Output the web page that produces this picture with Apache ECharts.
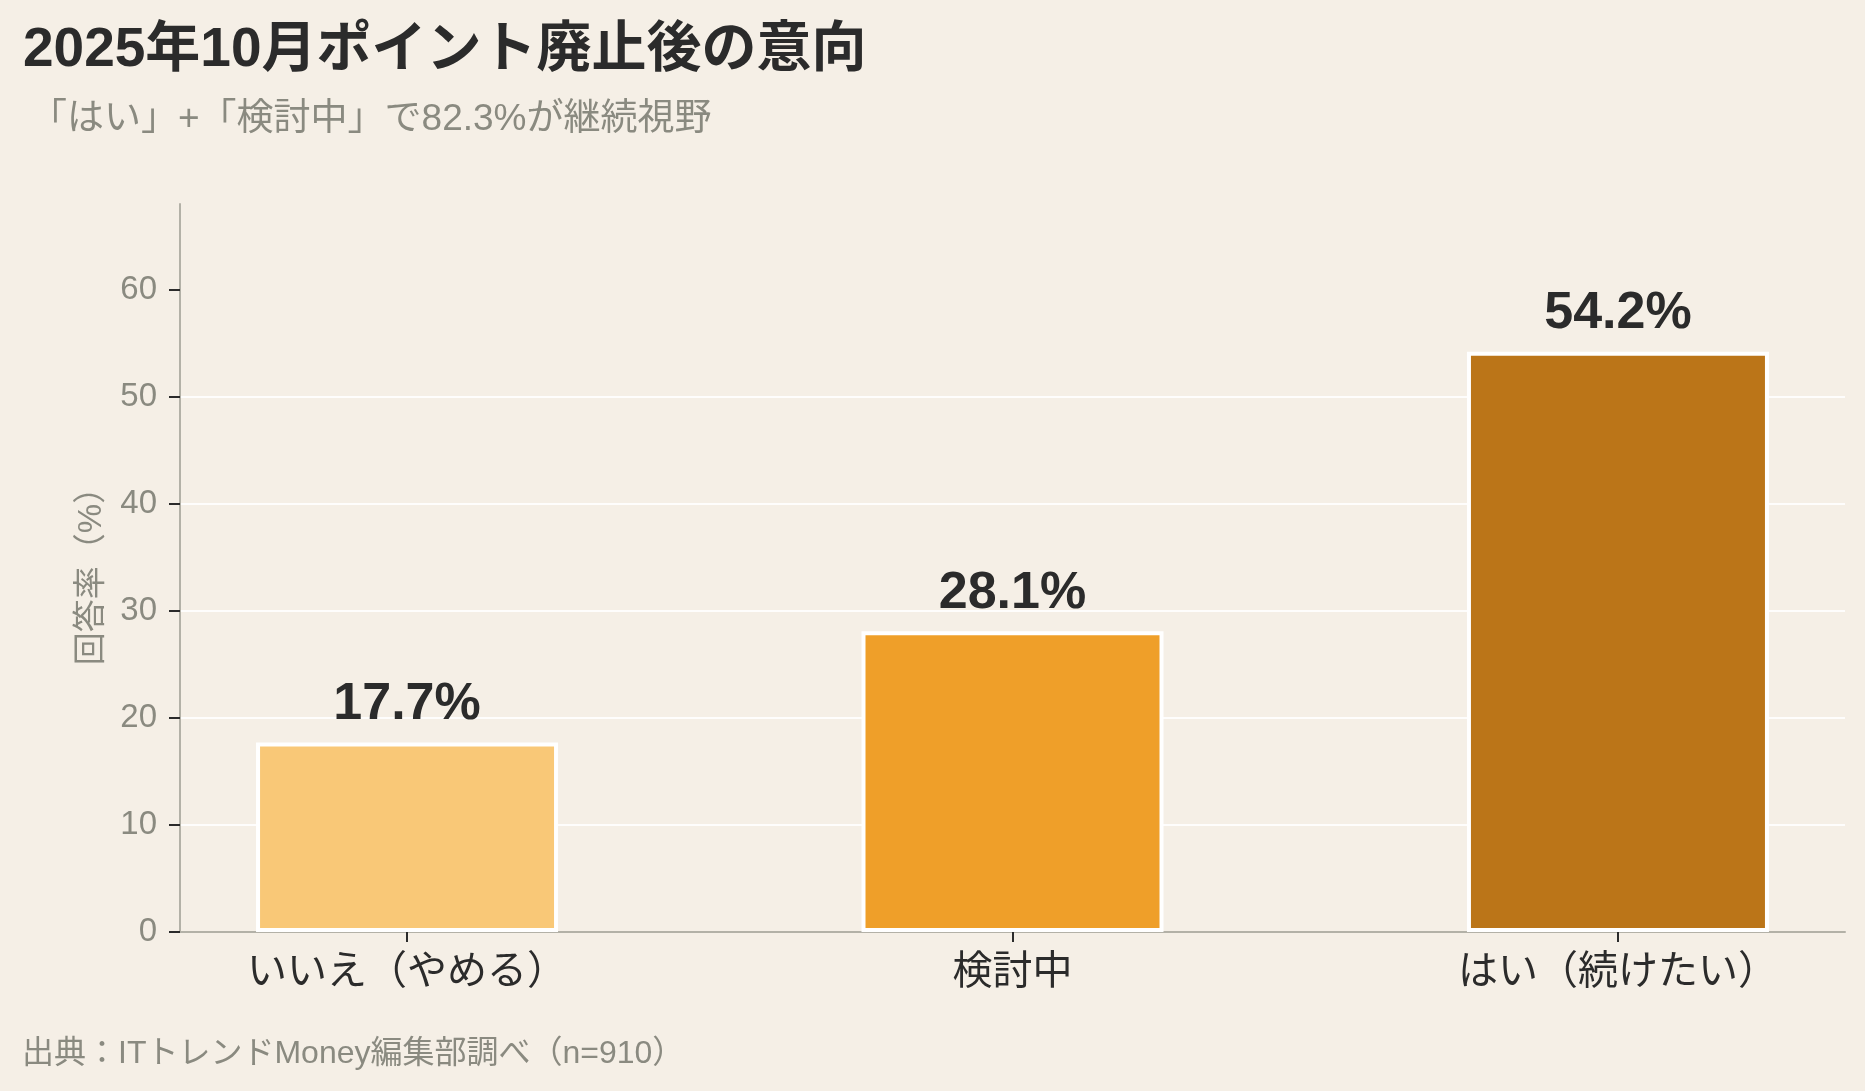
<!DOCTYPE html>
<html lang="ja">
<head>
    <meta charset="UTF-8">
    <title>ポイント廃止後の意向</title>
    <script src="https://cdn.jsdelivr.net/npm/echarts@6/dist/echarts.min.js"></script>
    <style type="text/css">
        *{
            margin: 0;
            padding: 0;
        }
        html, body{
            width: 100%;
            height: 100%;
            background: #F5EFE6;
        }
        #chart{
            width: 1865px;
            height: 1091px;
        }
    </style>
</head>
<body>
    <div id="chart"></div>
</body>
<script>
    // データ
    var categories = ['いいえ（やめる）', '検討中', 'はい（続けたい）'];
    var values = [17.7, 28.1, 54.2];
    var barColors = ['#F9C877', '#EF9F29', '#BB7518'];
    var yTicks = [0, 10, 20, 30, 40, 50, 60];
    var xTicks = [0, 1, 2];

    // 欧文は Liberation Sans、和文は Noto Sans CJK JP
    var FONT = '"Liberation Sans", "Noto Sans CJK JP", sans-serif';
    var GRAY = '#8A8A80';
    var DARK = '#2B2B2B';

    var barData = [];
    for (var i = 0; i < values.length; i++) {
        barData.push({
            value: [i, values[i]],
            itemStyle: { color: barColors[i] }
        });
    }

    var myChart = echarts.init(document.getElementById('chart'));
    var option = {
        backgroundColor: '#F5EFE6',
        animation: false,
        title: [
            {
                text: '2025年10月ポイント廃止後の意向',
                left: 23,
                top: 23,
                padding: 0,
                textStyle: { fontFamily: FONT, fontSize: 55, fontWeight: 'bold', color: DARK }
            },
            {
                text: '「はい」+「検討中」で82.3%が継続視野',
                left: 30,
                top: 101,
                padding: 0,
                textStyle: { fontFamily: FONT, fontSize: 37, fontWeight: 'normal', color: GRAY }
            },
            {
                text: '出典：ITトレンドMoney編集部調べ（n=910）',
                left: 22,
                top: 1038,
                padding: 0,
                textStyle: { fontFamily: FONT, fontSize: 32, fontWeight: 'normal', color: GRAY }
            }
        ],
        grid: {
            left: 180,
            right: 20,
            top: 204,
            bottom: 159
        },
        xAxis: {
            type: 'value',
            min: -0.375,
            max: 2.375,
            axisLine: { show: true, onZero: false, lineStyle: { color: '#B3B1A7', width: 2 } },
            axisTick: {
                show: true,
                customValues: xTicks,
                length: 10,
                lineStyle: { color: DARK, width: 2 }
            },
            axisLabel: {
                customValues: xTicks,
                margin: 21,
                fontFamily: FONT,
                fontSize: 40,
                color: DARK,
                formatter: function (v) {
                    return categories[Math.round(v)];
                }
            },
            splitLine: { show: false }
        },
        yAxis: {
            type: 'value',
            min: 0,
            max: 68,
            interval: 10,
            name: '回答率（%）',
            nameLocation: 'middle',
            nameGap: 72,
            nameRotate: 90,
            nameTextStyle: { fontFamily: FONT, fontSize: 33, color: GRAY },
            axisLine: { show: true, onZero: false, lineStyle: { color: '#B3B1A7', width: 2 } },
            axisTick: {
                show: true,
                customValues: yTicks,
                length: 11,
                lineStyle: { color: DARK, width: 2 }
            },
            axisLabel: {
                customValues: yTicks,
                margin: 23,
                fontFamily: FONT,
                fontSize: 33,
                color: GRAY
            },
            splitLine: {
                show: true,
                showMaxLine: false,
                lineStyle: { color: '#FFFFFF', width: 2, opacity: 0.85 }
            }
        },
        series: [
            {
                type: 'bar',
                data: barData,
                barWidth: 302,
                itemStyle: { borderColor: '#FFFFFF', borderWidth: 4 },
                label: {
                    show: true,
                    position: 'top',
                    distance: 12,
                    fontFamily: FONT,
                    fontSize: 52,
                    fontWeight: 'bold',
                    color: DARK,
                    formatter: function (p) {
                        return p.value[1].toFixed(1) + '%';
                    }
                }
            }
        ]
    };
    myChart.setOption(option);
</script>
</html>
